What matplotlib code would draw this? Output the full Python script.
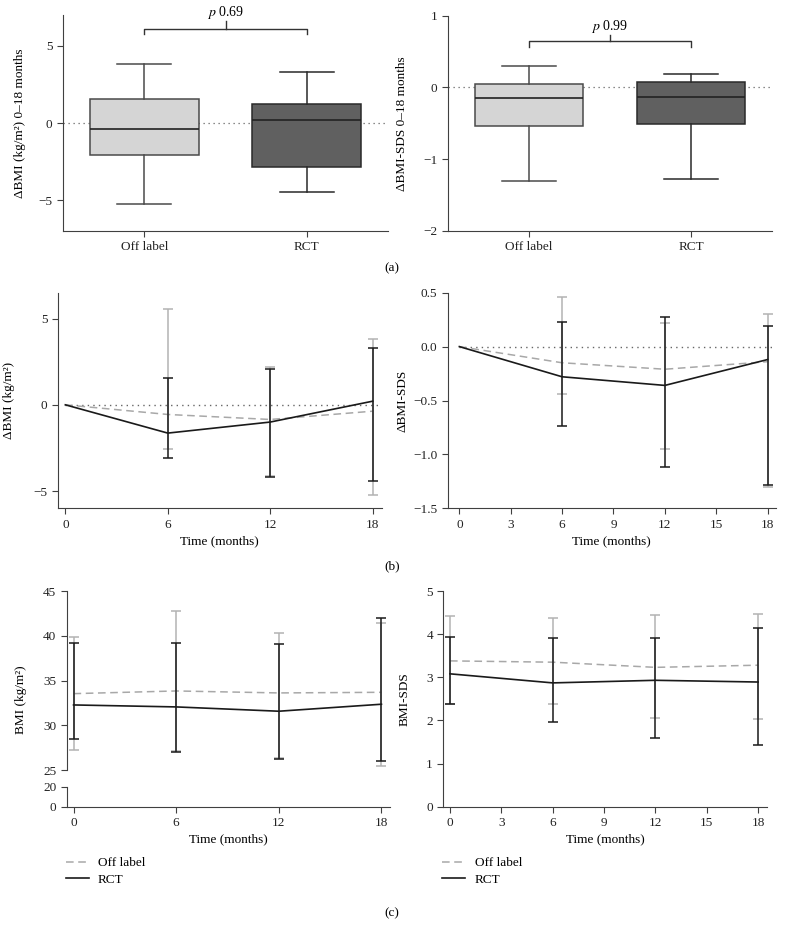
import matplotlib
matplotlib.use('Agg')
import matplotlib.pyplot as plt
from matplotlib.lines import Line2D
import numpy as np

plt.rcParams['font.family'] = ['Liberation Serif', 'DejaVu Serif']
plt.rcParams['mathtext.fontset'] = 'stix'
plt.rcParams['font.size'] = 9.5
plt.rcParams['axes.edgecolor'] = '#404040'
plt.rcParams['xtick.color'] = '#404040'
plt.rcParams['ytick.color'] = '#404040'
plt.rcParams['xtick.labelcolor'] = '#222222'
plt.rcParams['ytick.labelcolor'] = '#222222'

# ---------------- data ----------------
groups = ['Off label', 'RCT']

# (a) left: change in BMI 0-18 months
dbmi_whislo = [-5.24, -4.46]
dbmi_q1 = [-2.10, -2.88]
dbmi_med = [-0.37, 0.19]
dbmi_q3 = [1.56, 1.21]
dbmi_whishi = [3.81, 3.31]
dbmi_p = '0.69'

# (a) right: change in BMI-SDS 0-18 months
dsds_whislo = [-1.31, -1.28]
dsds_q1 = [-0.54, -0.51]
dsds_med = [-0.15, -0.13]
dsds_q3 = [0.05, 0.07]
dsds_whishi = [0.30, 0.19]
dsds_p = '0.99'

months = [0, 6, 12, 18]
err_months = [6, 12, 18]

# (b) left: delta BMI over time
b1_off = [0, -0.56, -0.85, -0.37]
b1_rct = [0, -1.64, -1.00, 0.21]
b1_off_lo = [-2.58, -4.10, -5.23]
b1_off_hi = [5.56, 2.20, 3.80]
b1_rct_lo = [-3.10, -4.19, -4.44]
b1_rct_hi = [1.53, 2.10, 3.32]

# (b) right: delta BMI-SDS over time
b2_off = [0, -0.15, -0.21, -0.14]
b2_rct = [0, -0.28, -0.36, -0.12]
b2_off_lo = [-0.44, -0.95, -1.30]
b2_off_hi = [0.46, 0.22, 0.30]
b2_rct_lo = [-0.74, -1.12, -1.28]
b2_rct_hi = [0.23, 0.27, 0.19]

# (c) left: BMI over time
c1_off = [33.55, 33.85, 33.63, 33.70]
c1_rct = [32.29, 32.07, 31.59, 32.37]
c1_off_lo = [27.27, 27.13, 26.38, 25.50]
c1_off_hi = [39.84, 42.77, 40.28, 41.43]
c1_rct_lo = [28.53, 27.05, 26.27, 26.00]
c1_rct_hi = [39.24, 39.17, 39.06, 41.96]

# (c) right: BMI-SDS over time
c2_off = [3.38, 3.35, 3.23, 3.28]
c2_rct = [3.08, 2.87, 2.93, 2.89]
c2_off_lo = [2.37, 2.37, 2.06, 2.03]
c2_off_hi = [4.41, 4.38, 4.44, 4.47]
c2_rct_lo = [2.39, 1.97, 1.59, 1.43]
c2_rct_hi = [3.94, 3.90, 3.90, 4.14]

# ---------------- figure ----------------
W, H = 785, 931
fig = plt.figure(figsize=(W / 100, H / 100), dpi=100)


def add_ax(l, r, t, b):
    return fig.add_axes([l / W, 1 - b / H, (r - l) / W, (b - t) / H])


def style(ax):
    ax.spines['top'].set_visible(False)
    ax.spines['right'].set_visible(False)
    ax.tick_params(direction='out', length=4, width=0.8)


OFF_C = '#b3b3b3'
RCT_C = '#1a1a1a'


def boxpanel(ax, whislo, q1, med, q3, whishi, p, ylim, yticks, ylabel, br_y, br_drop, br_up, txt_y):
    stats = []
    for i in range(len(groups)):
        stats.append(dict(whislo=whislo[i], q1=q1[i], med=med[i], q3=q3[i],
                          whishi=whishi[i], label=groups[i]))
    ax.axhline(0, ls=(0, (1, 3)), color='#666666', lw=0.9, zorder=0)
    bp = ax.bxp(stats, positions=[1, 2], widths=0.67, patch_artist=True,
                showfliers=False, whiskerprops=dict(lw=1.1),
                capprops=dict(lw=1.1), medianprops=dict(lw=1.2, color='#222222'),
                boxprops=dict(lw=1.1))
    fills = ['#d5d5d5', '#606060']
    edges = ['#4a4a4a', '#2a2a2a']
    for i, box in enumerate(bp['boxes']):
        box.set_facecolor(fills[i])
        box.set_edgecolor(edges[i])
    for i in range(2):
        for k in (2 * i, 2 * i + 1):
            bp['whiskers'][k].set_color(edges[i])
            bp['caps'][k].set_color(edges[i])
    for c in bp['caps']:
        xd = c.get_xdata()
        mid = (xd[0] + xd[1]) / 2
        c.set_xdata([mid - 0.165, mid + 0.165])
    ax.set_xlim(0.5, 2.5)
    ax.set_ylim(*ylim)
    ax.set_yticks(yticks)
    ax.set_yticklabels([('\u2212' + str(abs(v))) if v < 0 else str(v) for v in yticks])
    ax.set_ylabel(ylabel)
    style(ax)
    ax.plot([1, 1, 2, 2], [br_drop, br_y, br_y, br_drop], color='#333333', lw=1, clip_on=False)
    ax.plot([1.5, 1.5], [br_y, br_up], color='#333333', lw=1, clip_on=False)
    ax.text(1.5, txt_y, r'$p$ ' + p, ha='center', va='center', fontsize=10)


axA1 = add_ax(63, 388, 15, 231)
boxpanel(axA1, dbmi_whislo, dbmi_q1, dbmi_med, dbmi_q3, dbmi_whishi, dbmi_p,
         (-7, 7), [-5, 0, 5], 'ΔBMI (kg/m²) 0–18 months', 6.1, 5.76, 6.58, 7.15)
axA1.yaxis.set_label_coords((26 - 63) / 325, 0.5)

axA2 = add_ax(448, 772, 15.7, 230.7)
boxpanel(axA2, dsds_whislo, dsds_q1, dsds_med, dsds_q3, dsds_whishi, dsds_p,
         (-2, 1), [-2, -1, 0, 1], 'ΔBMI-SDS 0–18 months', 0.65, 0.57, 0.73, 0.855)
axA2.yaxis.set_label_coords((408 - 448) / 324, 0.5)


def errs(mean_vals, lo, hi):
    m = np.array(mean_vals)
    return [m - np.array(lo), np.array(hi) - m]


def linepanel(ax, off, rct, off_lo, off_hi, rct_lo, rct_hi, xmon):
    off_at = [off[months.index(x)] for x in xmon]
    rct_at = [rct[months.index(x)] for x in xmon]
    ax.errorbar(xmon, off_at, yerr=errs(off_at, off_lo, off_hi), fmt='none',
                ecolor=OFF_C, elinewidth=1.1, capsize=3.3, capthick=1.1, zorder=2)
    ax.plot(months, off, ls=(0, (5, 3)), color='#a8a8a8', lw=1.1, zorder=3, label='Off label')
    ax.errorbar(xmon, rct_at, yerr=errs(rct_at, rct_lo, rct_hi), fmt='none',
                ecolor=RCT_C, elinewidth=1.1, capsize=3.3, capthick=1.1, zorder=4)
    ax.plot(months, rct, ls='-', color=RCT_C, lw=1.2, zorder=5, label='RCT')


# (b) left
axB1 = add_ax(58, 381.7, 292.7, 508.3)
axB1.hlines(0, months[0], 18.55, ls=(0, (1, 3)), color='#666666', lw=1.0, zorder=1)
linepanel(axB1, b1_off, b1_rct, b1_off_lo, b1_off_hi, b1_rct_lo, b1_rct_hi, err_months)
axB1.set_xlim(-0.43, 18.53)
axB1.set_ylim(-6, 6.5)
axB1.set_yticks([-5, 0, 5])
axB1.set_yticklabels(['\u22125', '0', '5'])
axB1.set_xticks([0, 6, 12, 18])
axB1.set_xlabel('Time (months)', labelpad=3)
axB1.set_ylabel('ΔBMI (kg/m²)')
axB1.yaxis.set_label_coords((15 - 58) / 323.7, 0.5)
style(axB1)

# (b) right
axB2 = add_ax(447.7, 776, 292.7, 508.3)
axB2.hlines(0, months[0], 18.5, ls=(0, (1, 3)), color='#666666', lw=1.0, zorder=1)
linepanel(axB2, b2_off, b2_rct, b2_off_lo, b2_off_hi, b2_rct_lo, b2_rct_hi, err_months)
axB2.set_xlim(-0.68, 18.49)
axB2.set_ylim(-1.5, 0.5)
yt = [-1.5, -1.0, -0.5, 0.0, 0.5]
axB2.set_yticks(yt)
axB2.set_yticklabels([('\u2212%.1f' % abs(v)) if v < 0 else '%.1f' % v for v in yt])
axB2.set_xticks([0, 3, 6, 9, 12, 15, 18])
axB2.set_xlabel('Time (months)', labelpad=3)
axB2.set_ylabel('ΔBMI-SDS')
axB2.yaxis.set_label_coords((408 - 447.7) / 328.3, 0.5)
style(axB2)

# (c) left, broken axis
axC1 = add_ax(66.7, 390, 591, 770.3)
axC1b = add_ax(66.7, 390, 786.7, 806.7)
linepanel(axC1, c1_off, c1_rct, c1_off_lo, c1_off_hi, c1_rct_lo, c1_rct_hi, months)
axC1.set_xlim(-0.4, 18.5)
axC1.set_ylim(25, 45)
axC1.set_yticks([25, 30, 35, 40, 45])
axC1.set_xticks([])
style(axC1)
axC1.spines['bottom'].set_visible(False)
axC1.patch.set_alpha(0)
axC1.set_ylabel('BMI (kg/m²)')
axC1.yaxis.set_label_coords((27 - 66.7) / 323.3, (770.3 - 700) / 179.3)
axC1b.set_xlim(-0.4, 18.5)
axC1b.set_ylim(0, 20)
axC1b.set_yticks([0, 20])
axC1b.set_xticks([0, 6, 12, 18])
axC1b.set_xlabel('Time (months)', labelpad=3)
style(axC1b)
axC1b.patch.set_alpha(0)

# (c) right
axC2 = add_ax(443.3, 766.7, 591, 806.7)
linepanel(axC2, c2_off, c2_rct, c2_off_lo, c2_off_hi, c2_rct_lo, c2_rct_hi, months)
axC2.set_xlim(-0.39, 18.5)
axC2.set_ylim(0, 5)
axC2.set_yticks([0, 1, 2, 3, 4, 5])
axC2.set_xticks([0, 3, 6, 9, 12, 15, 18])
axC2.set_xlabel('Time (months)', labelpad=3)
axC2.set_ylabel('BMI-SDS')
axC2.yaxis.set_label_coords((410.7 - 443.3) / 323.4, 0.5)
style(axC2)

# legends
handles = [Line2D([], [], ls=(0, (5, 3)), color='#a8a8a8', lw=1.1),
           Line2D([], [], ls='-', color=RCT_C, lw=1.2)]
for lx in (65.7, 442.3):
    fig.legend(handles, groups, loc='upper left',
               bbox_to_anchor=(lx / W, 1 - 857 / H), frameon=False,
               borderpad=0, borderaxespad=0, handlelength=1.75,
               handletextpad=0.7, labelspacing=0.35, fontsize=9.5)

# panel labels
fig.text(392 / W, 1 - 268 / H, '(a)', ha='center', va='center')
fig.text(392 / W, 1 - 566 / H, '(b)', ha='center', va='center')
fig.text(392 / W, 1 - 913 / H, '(c)', ha='center', va='center')

fig.savefig('out.png', dpi=100)
